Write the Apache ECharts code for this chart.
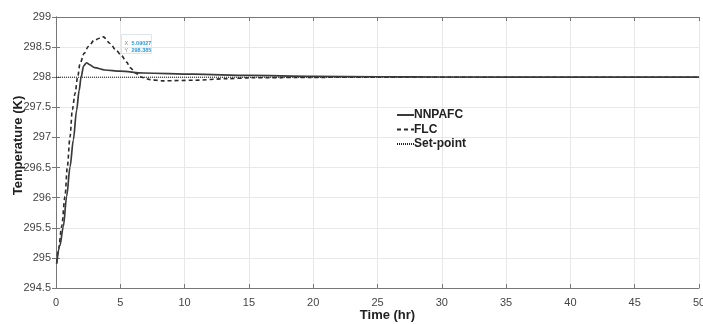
<!DOCTYPE html>
<html>
<head>
<meta charset="utf-8">
<title>Temperature response</title>
<script src="https://cdn.jsdelivr.net/npm/echarts@6/dist/echarts.min.js"></script>
<style>
    html, body { margin: 0; padding: 0; background: #fff; }
    #chart { width: 703px; height: 324px; }
</style>
</head>
<body>
<div id="chart"></div>
<script>
// values
const timeNN = [0.05, 0.3, 0.57, 0.83, 1.09, 1.35, 1.6, 1.8, 1.95, 2.15, 2.38, 2.6, 3.0, 3.8, 5.0, 6.8, 10.7, 15, 20, 25, 30, 40, 50];
const tempNN = [294.9, 295.2, 295.52, 296.02, 296.51, 296.96, 297.45, 297.78, 298.0, 298.19, 298.24, 298.21, 298.16, 298.12, 298.1, 298.07, 298.05, 298.03, 298.015, 298.008, 298.004, 298.0, 298.0];

const timeFLC = [0.05, 0.2, 0.44, 0.7, 0.88, 1.09, 1.27, 1.48, 1.69, 1.87, 2.2, 2.51, 3.0, 3.68, 4.2, 4.7, 5.09, 5.5, 5.75, 6.27, 6.66, 7.3, 8.3, 10.7, 13.3, 15.1, 20, 25, 50];
const tempFLC = [294.92, 295.15, 295.52, 296.02, 296.51, 297.01, 297.46, 297.73, 298.01, 298.23, 298.4, 298.51, 298.62, 298.67, 298.56, 298.44, 298.36, 298.25, 298.16, 298.06, 298.0, 297.96, 297.94, 297.95, 297.975, 297.99, 297.998, 298.0, 298.0];

const timeSet = [0, 50];
const tempSet = [298, 298];

const seriesNames = ['NNPAFC', 'FLC', 'Set-point'];
const dataTip = ['5.09027', '298.385'];

const pairs = (xs, ys) => xs.map((x, i) => [x, ys[i]]);

const font = 'Liberation Sans, Arial, sans-serif';
const axisColor = '#777';

const chart = echarts.init(document.getElementById('chart'));

const baseX = {
    type: 'value',
    min: 0,
    max: 50,
    interval: 5,
    axisLine: { show: true, lineStyle: { color: axisColor, width: 1 } },
    axisTick: { show: true, inside: true, length: 4, lineStyle: { color: axisColor } },
    splitLine: { show: false }
};
const baseY = {
    type: 'value',
    min: 294.5,
    max: 299,
    interval: 0.5,
    axisLine: { show: true, lineStyle: { color: axisColor, width: 1 } },
    axisTick: { show: true, inside: true, length: 4, lineStyle: { color: axisColor } },
    splitLine: { show: false }
};

const option = {
    animation: false,
    grid: { left: 56, right: 4, top: 17, bottom: 36, outerBoundsMode: 'none', containLabel: false },
    xAxis: [
        Object.assign({}, baseX, {
            position: 'bottom',
            name: 'Time (hr)',
            nameLocation: 'middle',
            nameGap: 21,
            nameMoveOverlap: false,
            nameTextStyle: { color: '#222', fontSize: 13, fontWeight: 'bold', fontFamily: font, padding: [0, 0, 0, 20] },
            axisLabel: { color: '#444', fontSize: 11, fontFamily: font, margin: 9 },
            splitLine: { show: true, lineStyle: { color: '#e8e8e8', width: 1 } }
        }),
        Object.assign({}, baseX, { position: 'top', axisLabel: { show: false } })
    ],
    yAxis: [
        Object.assign({}, baseY, {
            position: 'left',
            name: 'Temperature (K)',
            nameLocation: 'middle',
            nameGap: 31,
            nameMoveOverlap: false,
            nameTextStyle: { color: '#222', fontSize: 13, fontWeight: 'bold', fontFamily: font, padding: [0, 0, 0, 14] },
            axisLabel: { color: '#444', fontSize: 11, fontFamily: font, margin: 5 },
            splitLine: { show: true, lineStyle: { color: '#e8e8e8', width: 1 } }
        }),
        Object.assign({}, baseY, { position: 'right', axisLabel: { show: false } })
    ],
    legend: {
        orient: 'vertical',
        left: 391,
        top: 104,
        itemWidth: 17,
        itemHeight: 10,
        itemGap: 2.5,
        data: seriesNames,
        itemStyle: { opacity: 0 },
        textStyle: { color: '#222', fontSize: 12, fontWeight: 'bold', fontFamily: font, padding: [0, 0, 0, -5] }
    },
    series: [
        {
            name: seriesNames[0],
            type: 'line',
            data: pairs(timeNN, tempNN),
            showSymbol: false,
            symbol: 'none',
            smooth: 0.3,
            smoothMonotone: 'x',
            lineStyle: { color: '#3a3a3a', width: 1.7, type: 'solid' },
            itemStyle: { color: '#3a3a3a' },
            z: 4
        },
        {
            name: seriesNames[1],
            type: 'line',
            data: pairs(timeFLC, tempFLC),
            showSymbol: false,
            symbol: 'none',
            smooth: 0.3,
            smoothMonotone: 'x',
            lineStyle: { color: '#2a2a2a', width: 1.6, type: [4, 3] },
            itemStyle: { color: '#2a2a2a' },
            z: 3
        },
        {
            name: seriesNames[2],
            type: 'line',
            data: pairs(timeSet, tempSet),
            showSymbol: false,
            symbol: 'none',
            lineStyle: { color: '#222', width: 1.1, type: [1, 1] },
            itemStyle: { color: '#222' },
            z: 2
        }
    ],
    graphic: [
        {
            type: 'group',
            left: 121,
            top: 34,
            children: [
                {
                    type: 'rect',
                    shape: { x: 0, y: 0, width: 30, height: 19 },
                    style: { fill: '#fff', stroke: '#dde6ee', lineWidth: 1 }
                },
                {
                    type: 'text',
                    left: 3,
                    top: 3,
                    style: {
                        text: '{k|X} {v|' + dataTip[0] + '}\n{k|Y} {v|' + dataTip[1] + '}',
                        lineHeight: 7,
                        rich: {
                            k: { fontSize: 5.5, fill: '#888', fontFamily: font, lineHeight: 7 },
                            v: { fontSize: 5.5, fill: '#2a9be0', fontWeight: 'bold', fontFamily: font, lineHeight: 7 }
                        }
                    }
                }
            ]
        }
    ]
};

chart.setOption(option);
</script>
</body>
</html>
